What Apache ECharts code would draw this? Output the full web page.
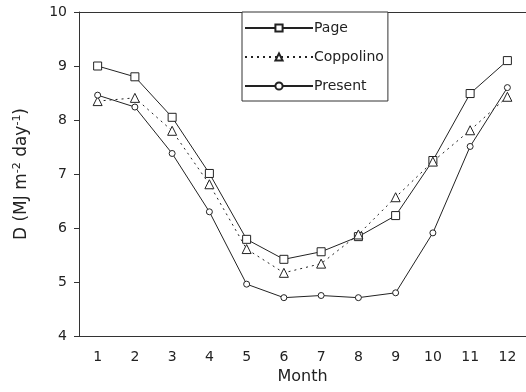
<!DOCTYPE html>
<html><head><meta charset="utf-8">
<script src="https://cdn.jsdelivr.net/npm/echarts@6/dist/echarts.min.js"></script>
<style>html,body{margin:0;padding:0;background:#fff}#c{width:526px;height:392px}</style>
</head><body><div id="c"></div>
<script>
var months = ['1','2','3','4','5','6','7','8','9','10','11','12'];
var page = [9.00, 8.80, 8.05, 7.01, 5.79, 5.42, 5.56, 5.84, 6.23, 7.25, 8.49, 9.10];
var coppolino = [8.35, 8.41, 7.80, 6.81, 5.61, 5.17, 5.34, 5.88, 6.57, 7.23, 7.81, 8.43];
var present = [8.46, 8.24, 7.38, 6.30, 4.96, 4.71, 4.75, 4.71, 4.80, 5.91, 7.51, 8.60];
var yTicks = [4, 5, 6, 7, 8, 9, 10];

var F = 'DejaVu Sans';
var C = '#222';
var chart = echarts.init(document.getElementById('c'));
function ser(name, data, symbol, size, dash) {
  return {
    name: name, type: 'line', data: data, symbol: symbol, symbolSize: size,
    showAllSymbol: true,
    lineStyle: {color: C, width: 1, type: dash},
    itemStyle: {color: '#fff', borderColor: C, borderWidth: 1},
    emphasis: {disabled: true}, animation: false
  };
}
chart.setOption({
  animation: false,
  grid: {left: 79, top: 12, right: -2, bottom: 56},
  legend: {
    orient: 'vertical', left: 242, top: 12,
    itemWidth: 68, itemHeight: 9, itemGap: 15,
    padding: [9, 4, 8, 2],
    borderColor: '#333', borderWidth: 1, backgroundColor: '#fff',
    textStyle: {fontFamily: F, fontSize: 14, color: C, padding: [0, 0, 0, -4]},
    data: ['Page', 'Coppolino', 'Present']
  },
  xAxis: [{
    type: 'category', data: months, boundaryGap: true,
    name: 'Month', nameLocation: 'middle', nameGap: 30,
    nameTextStyle: {fontFamily: F, fontSize: 16, color: C},
    axisLine: {lineStyle: {color: '#333', width: 1}},
    axisTick: {length: 5, lineStyle: {color: '#333'}},
    axisLabel: {fontFamily: F, fontSize: 14, color: C, margin: 14},
    splitLine: {show: false}
  }, {
    type: 'category', data: months, position: 'top',
    axisLine: {show: true, lineStyle: {color: '#333', width: 1}},
    axisTick: {show: false}, axisLabel: {show: false}, splitLine: {show: false}
  }],
  yAxis: {
    type: 'value', min: yTicks[0], max: yTicks[yTicks.length - 1], interval: 1,
    name: '{a|D (MJ m}{s|-2}{a| day}{s|-1}{a|)}', nameLocation: 'middle', nameGap: 48,
    nameRotate: 90,
    nameTextStyle: {
      rich: {
        a: {fontFamily: F, fontSize: 17, color: C},
        s: {fontFamily: F, fontSize: 11, color: C, verticalAlign: 'top', padding: [0, 0, 8, 0]}
      }
    },
    axisLine: {show: true, lineStyle: {color: '#333', width: 1}},
    axisTick: {show: true, length: 5, lineStyle: {color: '#333'}},
    axisLabel: {fontFamily: F, fontSize: 14, color: C, margin: 12},
    splitLine: {show: false}
  },
  series: [
    ser('Page', page, 'rect', 8, 'solid'),
    ser('Coppolino', coppolino, 'triangle', 9, [2, 4]),
    ser('Present', present, 'circle', 6, 'solid')
  ]
});
</script></body></html>
